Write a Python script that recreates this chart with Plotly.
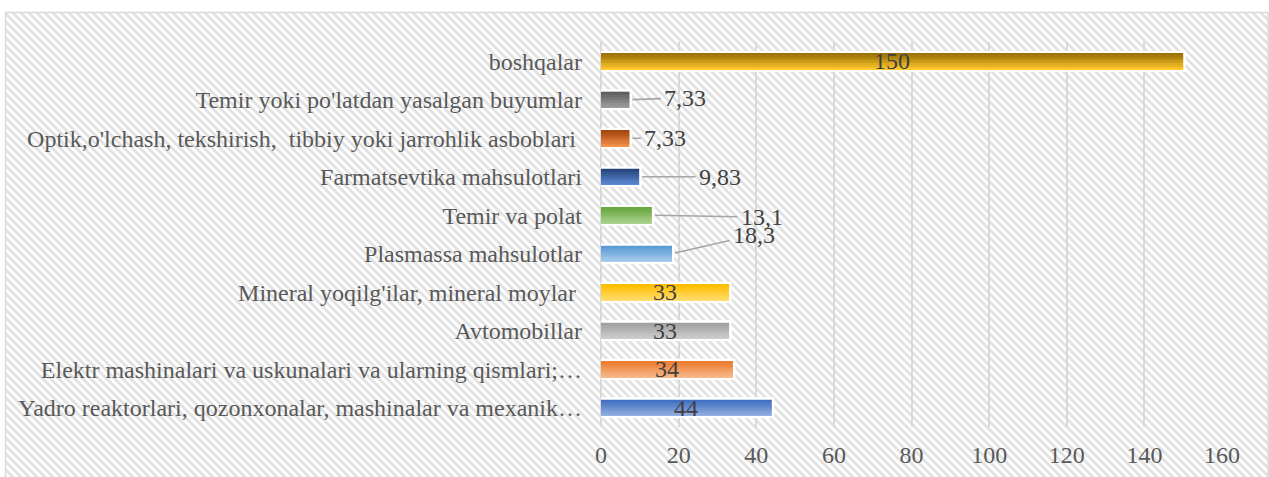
import base64
import plotly.graph_objects as go

# ---- data (bottom to top) ----
categories = [
    "Yadro reaktorlari, qozonxonalar, mashinalar va mexanik…",
    "Elektr mashinalari va uskunalari va ularning qismlari;…",
    "Avtomobillar",
    "Mineral yoqilg'ilar, mineral moylar\u00a0",
    "Plasmassa mahsulotlar",
    "Temir va polat",
    "Farmatsevtika mahsulotlari",
    "Optik,o'lchash, tekshirish, \u00a0tibbiy yoki jarrohlik asboblari\u00a0",
    "Temir yoki po'latdan yasalgan buyumlar",
    "boshqalar",
]
values = [44, 34, 33, 33, 18.3, 13.1, 9.83, 7.33, 7.33, 150]
x_ticks = [0, 20, 40, 60, 80, 100, 120, 140, 160]

# ---- style ----
top_colors = ["#4270C2", "#ED7D31", "#A0A0A0", "#FFBF00", "#5B9BD5",
              "#69A83F", "#27467D", "#A5470F", "#5F5F5F", "#9A7205"]
bottom_colors = ["#93AEE0", "#F6B889", "#CDCDCD", "#FFDB6E", "#A9CDEE",
                 "#A9D18E", "#5C89D6", "#F4904A", "#9E9E9E", "#FFC72C"]
# label placement: None -> inside centered, (ax, ay) -> outside with leader line
label_style = [None, None, None, None, (82, -19), (110, 2), (81, 0), (36, 0), (56, -2), None]

W, H = 1269, 477
ML, MR, MT, MB = 601, 47, 42, 50
PW, PH = W - ML - MR, H - MT - MB
FONT = "Liberation Serif, Times New Roman, serif"
TXT = "#595959"
FS = 24


def hex2rgb(h):
    h = h.lstrip("#")
    return tuple(int(h[i:i + 2], 16) for i in (0, 2, 4))


def mix(c1, c2, t):
    a, b = hex2rgb(c1), hex2rgb(c2)
    return "rgb(%d,%d,%d)" % tuple(round(a[k] + (b[k] - a[k]) * t) for k in range(3))


# striped background as an SVG image
svg = f'''<svg xmlns="http://www.w3.org/2000/svg" width="{W}" height="{H}" viewBox="0 0 {W} {H}">
<defs><pattern id="p" width="8" height="8" patternUnits="userSpaceOnUse">
<rect width="8" height="8" fill="#ffffff"/>
<polygon points="0,0 2,0 8,6 8,8 6,8 0,2" fill="#E2E2E2"/>
<polygon points="6,0 8,0 8,2" fill="#E2E2E2"/>
<polygon points="0,6 0,8 2,8" fill="#E2E2E2"/>
</pattern></defs>
<rect x="0" y="0" width="{W}" height="{H}" fill="#ffffff"/>
<rect x="5.5" y="12.5" width="{W - 6.5}" height="{H}" fill="url(#p)" stroke="#D9D9D9" stroke-width="1.5"/>
</svg>'''
src = "data:image/svg+xml;base64," + base64.b64encode(svg.encode()).decode()

fig = go.Figure()

bar_w = 0.42
n_bands = 10

# base bar with white outline
fig.add_trace(go.Bar(
    x=values, y=categories, orientation="h", width=bar_w,
    marker=dict(color=bottom_colors, line=dict(color="white", width=5)),
    cliponaxis=False, hoverinfo="skip", showlegend=False,
))
# gradient bands
for i in range(n_bands):
    t = i / (n_bands - 1)
    cols = [mix(b, tcol, t) for b, tcol in zip(bottom_colors, top_colors)]
    fig.add_trace(go.Bar(
        x=values, y=categories, orientation="h",
        width=bar_w / n_bands, offset=-bar_w / 2 + i * bar_w / n_bands,
        marker=dict(color=cols, line=dict(width=0)),
        hoverinfo="skip", showlegend=False,
    ))

annotations = []
for cat, v, st in zip(categories, values, label_style):
    txt = f"{v:g}".replace(".", ",")
    if st is None:
        annotations.append(dict(x=v / 2, y=cat, text=txt, showarrow=False,
                                font=dict(family=FONT, size=FS, color="#404040")))
    else:
        annotations.append(dict(x=v, y=cat, text=txt, showarrow=True,
                                ax=st[0], ay=st[1], arrowhead=0, arrowwidth=1.6,
                                arrowcolor="#A6A6A6", standoff=3, startstandoff=2,
                                font=dict(family=FONT, size=FS, color="#404040")))

fig.update_layout(
    width=W, height=H,
    margin=dict(l=ML, r=MR, t=MT, b=MB, autoexpand=False),
    barmode="overlay",
    paper_bgcolor="white",
    plot_bgcolor="rgba(0,0,0,0)",
    showlegend=False,
    annotations=annotations,
    images=[dict(source=src, xref="paper", yref="paper",
                 x=-ML / PW, y=1 + MT / PH, sizex=W / PW, sizey=H / PH,
                 xanchor="left", yanchor="top", sizing="stretch", layer="below")],
    xaxis=dict(range=[0, 160], tickvals=x_ticks, showgrid=True,
               gridcolor="#D9D9D9", gridwidth=2, zeroline=True,
               zerolinecolor="#D9D9D9", zerolinewidth=2, showline=False,
               ticks="", ticklabelstandoff=11, automargin=False,
               tickfont=dict(family=FONT, size=FS, color=TXT), fixedrange=True),
    yaxis=dict(categoryorder="array", categoryarray=categories, showgrid=False,
               zeroline=False, showline=False, ticks="", ticklabelstandoff=18,
               automargin=False,
               tickfont=dict(family=FONT, size=FS, color=TXT), fixedrange=True),
)

fig.write_html("out.html", config={"displayModeBar": False},
               post_script="document.body.style.margin='0';document.body.style.padding='0';")
